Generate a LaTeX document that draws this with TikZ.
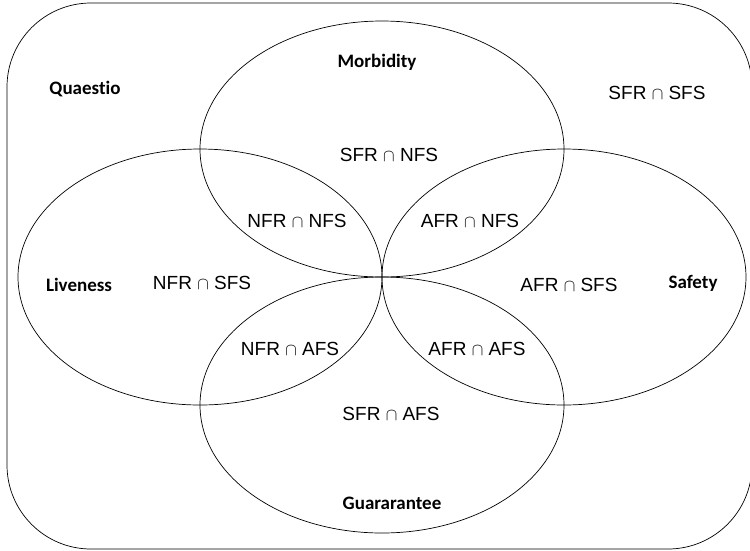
\documentclass[tikz,border=0pt]{standalone}
\usepackage{fontspec}
\setmainfont{Liberation Sans}
\newfontfamily\titlefont{Carlito}[Ligatures=CommonOff]
\usepackage{tikz}
\usetikzlibrary{positioning}

\tikzset{
  set/.style={line width=0.7pt},
  title/.style={font=\titlefont\bfseries\fontsize{19}{22}\selectfont},
  region/.style={font=\fontsize{19}{22}\selectfont}
}

\begin{document}
\begin{tikzpicture}[x=1pt, y=-1pt]
\useasboundingbox (0, 0) rectangle (750, 550);

% Universe
\draw[set, rounded corners=84pt] (7, 3) rectangle (752, 549);

% Four sets
\draw[set] (382, 149) ellipse [x radius=182pt, y radius=128pt];
\draw[set] (382, 405) ellipse [x radius=182pt, y radius=128pt];
\draw[set] (200, 277) ellipse [x radius=182pt, y radius=128pt];
\draw[set] (564, 277) ellipse [x radius=182pt, y radius=128pt];

% Set names
\node[title] (quaestio) at (85, 89) {Quaestio};
\node[title] (morbidity) at (377, 62) {Morbidity};
\node[title] (liveness) at (79, 285) {Liveness};
\node[title] (safety) at (693, 283) {Safety};
\node[title] (guarantee) at (392, 503) {Guararantee};

% Regions
\node[region] (sfrsfs) at (657, 93) {SFR $\cap$ SFS};
\node[region] (sfrnfs) at (389, 155) {SFR $\cap$ NFS};
\node[region] (nfrnfs) at (297, 221) {NFR $\cap$ NFS};
\node[region] (afrnfs) at (470, 221) {AFR $\cap$ NFS};
\node[region] (nfrsfs) at (202, 283) {NFR $\cap$ SFS};
\node[region] (afrsfs) at (569, 285) {AFR $\cap$ SFS};
\node[region] (nfrafs) at (290, 349) {NFR $\cap$ AFS};
\node[region] (afrafs) at (477, 349) {AFR $\cap$ AFS};
\node[region] (sfrafs) at (391, 414) {SFR $\cap$ AFS};
\end{tikzpicture}
\end{document}
